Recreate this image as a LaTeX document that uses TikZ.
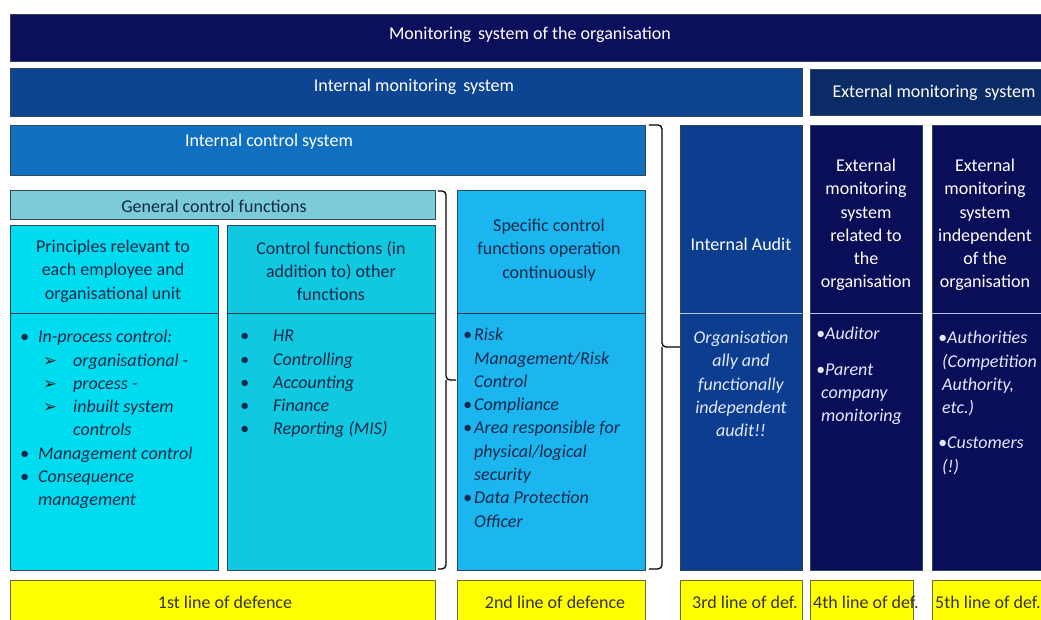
\documentclass[tikz,border=0pt]{standalone}
\usepackage{fontspec}
\setmainfont{Carlito}
\newfontfamily\djv{DejaVu Sans}
\usetikzlibrary{calc}
\definecolor{cTop}{HTML}{0C0F5C}
\definecolor{cIntMon}{HTML}{0D4593}
\definecolor{cExtMon}{HTML}{0B2B66}
\definecolor{cICS}{HTML}{0F6FC0}
\definecolor{cGen}{HTML}{7CCBD9}
\definecolor{cPrin}{HTML}{00DCEF}
\definecolor{cCtrl}{HTML}{10C8E0}
\definecolor{cSpec}{HTML}{1BB6EF}
\definecolor{cAudit}{HTML}{0C3D8F}
\definecolor{cExt}{HTML}{0A0D58}
\definecolor{cYel}{HTML}{FFFF00}
\definecolor{cBorder}{HTML}{34465A}
\definecolor{cDark}{HTML}{14284A}
\definecolor{cLight}{HTML}{E2E9FF}
\definecolor{cYelBorder}{HTML}{6E6A3A}
\newcommand{\myarr}{\makebox[30pt][l]{\upshape\djv\fontsize{17}{17}\selectfont\color{black!85}➢}}
\begin{document}
\begin{tikzpicture}[x=1pt,y=-1pt,
  box/.style={draw=cBorder,line width=0.9pt,inner sep=0pt,anchor=north west},
  ybox/.style={box,draw=cYelBorder,fill=cYel},
  head/.style={font=\fontsize{18}{23.3}\selectfont,align=center,inner sep=0pt},
  whead/.style={head,text=white},
  dhead/.style={head,text=cDark},
  body/.style={font=\fontsize{18}{23.3}\selectfont\itshape,align=left,inner sep=0pt,anchor=north west},
  ytext/.style={font=\fontsize{18}{20}\selectfont,text=black!80,inner sep=0pt},
  divd/.style={draw=cBorder!80!black,line width=0.9pt},
  divl/.style={draw=white!70!cIntMon,line width=0.9pt},
  brk/.style={draw=black,line width=1.3pt,rounded corners=4pt}
]
\useasboundingbox (0,0) rectangle (1041,619);
\clip (0,0) rectangle (1041,619);
\fill[white] (0,0) rectangle (1041,619);

% top level
\node[box,fill=cTop,minimum width=1045pt,minimum height=47pt] (top) at (10,14) {};
\node[whead] (topt) at (530,35) {Monitoring\, system of the organisation};

\node[box,fill=cIntMon,minimum width=792pt,minimum height=48pt] (intmon) at (10,68) {};
\node[whead] (intmont) at (414,87) {Internal monitoring\, system};
\node[box,fill=cExtMon,minimum width=240pt,minimum height=46pt] (extmon) at (810,69) {};
\node[whead] (extmont) at (934,93) {External monitoring\, system};

\node[box,fill=cICS,minimum width=635pt,minimum height=50pt] (ics) at (10,125) {};
\node[whead] (icst) at (269,142) {Internal control system};

% general control functions
\node[box,fill=cGen,minimum width=425pt,minimum height=29pt] (gen) at (10,190) {};
\node[dhead] (gent) at (214,206) {General control functions};

\node[box,fill=cPrin,minimum width=208pt,minimum height=345pt] (prin) at (10,225) {};
\draw[divd] (10,313) -- (218,313);
\node[dhead] (print) at (113,271) {Principles relevant to\\each employee and\\organisational unit};
\node[body,text=cDark] (prinb) at (20,330) {%
\makebox[18pt][l]{•}In-process control:\\
\hspace*{23pt}\myarr organisational -\\
\hspace*{23pt}\myarr process -\\
\hspace*{23pt}\myarr inbuilt system\\
\hspace*{53pt}controls\\
\makebox[18pt][l]{•}Management control\\
\makebox[18pt][l]{•}Consequence\\
\hspace*{18pt}management};

\node[box,fill=cCtrl,minimum width=208pt,minimum height=345pt] (ctrl) at (227,225) {};
\draw[divd] (227,313) -- (435,313);
\node[dhead] (ctrlt) at (331,271) {Control functions (in\\addition to) other\\functions};
\node[body,text=cDark] (ctrlb) at (240,330) {%
\makebox[33pt][l]{•}HR\\
\makebox[33pt][l]{•}Controlling\\
\makebox[33pt][l]{•}Accounting\\
\makebox[33pt][l]{•}Finance\\
\makebox[33pt][l]{•}Reporting (MIS)};

% specific
\node[box,fill=cSpec,minimum width=188pt,minimum height=380pt] (spec) at (457,190) {};
\draw[divd] (457,313) -- (645,313);
\node[dhead] (spect) at (549,250) {Specific control\\functions operation\\continuously};
\node[body,text=cDark] (specb) at (463,328) {%
\makebox[11pt][l]{•}Risk\\
\hspace*{11pt}Management/Risk\\
\hspace*{11pt}Control\\
\makebox[11pt][l]{•}Compliance\\
\makebox[11pt][l]{•}Area responsible for\\
\hspace*{11pt}physical/logical\\
\hspace*{11pt}security\\
\makebox[11pt][l]{•}Data Protection\\
\hspace*{11pt}Officer};

% internal audit
\node[box,fill=cAudit,minimum width=122pt,minimum height=445pt] (audit) at (680,125) {};
\draw[divl] (680,313) -- (802,313);
\node[whead] (auditt) at (741,244) {Internal Audit};
\node[head,text=cLight,font=\fontsize{18}{23.3}\selectfont\itshape] (auditb) at (741,384) {Organisation\\ally and\\functionally\\independent\\audit!!};

% external boxes
\node[box,fill=cExt,minimum width=112pt,minimum height=445pt] (ext1) at (810,125) {};
\draw[divl] (810,313) -- (922,313);
\node[whead] (ext1t) at (866,225) {External\\monitoring\\system\\related to\\the\\organisation};
\node[body,text=cLight] (ext1b) at (816,327) {%
•Auditor\\[12pt]
•Parent\\
\hspace*{5pt}company\\
\hspace*{5pt}monitoring};

\node[box,fill=cExt,minimum width=120pt,minimum height=445pt] (ext2) at (932,125) {};
\draw[divl] (932,313) -- (1052,313);
\node[whead] (ext2t) at (985,225) {External\\monitoring\\system\\independent\\of the\\organisation};
\node[body,text=cLight] (ext2b) at (938,331) {%
•Authorities\\
\hspace*{4pt}(Competition\\
\hspace*{4pt}Authority,\\
\hspace*{4pt}etc.)\\[12pt]
•Customers\\
\hspace*{4pt}(!)};

% lines of defence
\node[ybox,minimum width=425pt,minimum height=50pt] (y1) at (10,580) {};
\node[ytext] (y1t) at (225,602) {1st line of defence};
\node[ybox,minimum width=188pt,minimum height=50pt] (y2) at (457,580) {};
\node[ytext] (y2t) at (555,602) {2nd line of defence};
\node[ybox,minimum width=122pt,minimum height=50pt] (y3) at (680,580) {};
\node[ytext] (y3t) at (745,602) {3rd line of def.};
\node[ybox,minimum width=103pt,minimum height=50pt] (y4) at (810,580) {};
\node[ytext] (y4t) at (866,602) {4th line of def.};
\node[ybox,minimum width=120pt,minimum height=50pt] (y5) at (932,580) {};
\node[ytext] (y5t) at (988,602) {5th line of def.};

% brackets
\coordinate (b1top) at ($(gen.north east)+(2,1)$);
\coordinate (b1bot) at ($(ctrl.south east)+(2,-2)$);
\coordinate (b1tip) at ($(spec.west)+(-1,0)$);
\coordinate (b1mid) at (446,380);
\draw[brk] (b1top) -| (b1mid) -- (b1mid -| b1tip);
\draw[brk] (b1bot) -| (b1mid);

\coordinate (b2top) at ($(ics.north east)+(3,0)$);
\coordinate (b2bot) at ($(spec.south east)+(3,-2)$);
\coordinate (b2mid) at (662,347);
\draw[brk] (b2top) -| (b2mid) -- (b2mid -| audit.west);
\draw[brk] (b2bot) -| (b2mid);
\end{tikzpicture}
\end{document}
